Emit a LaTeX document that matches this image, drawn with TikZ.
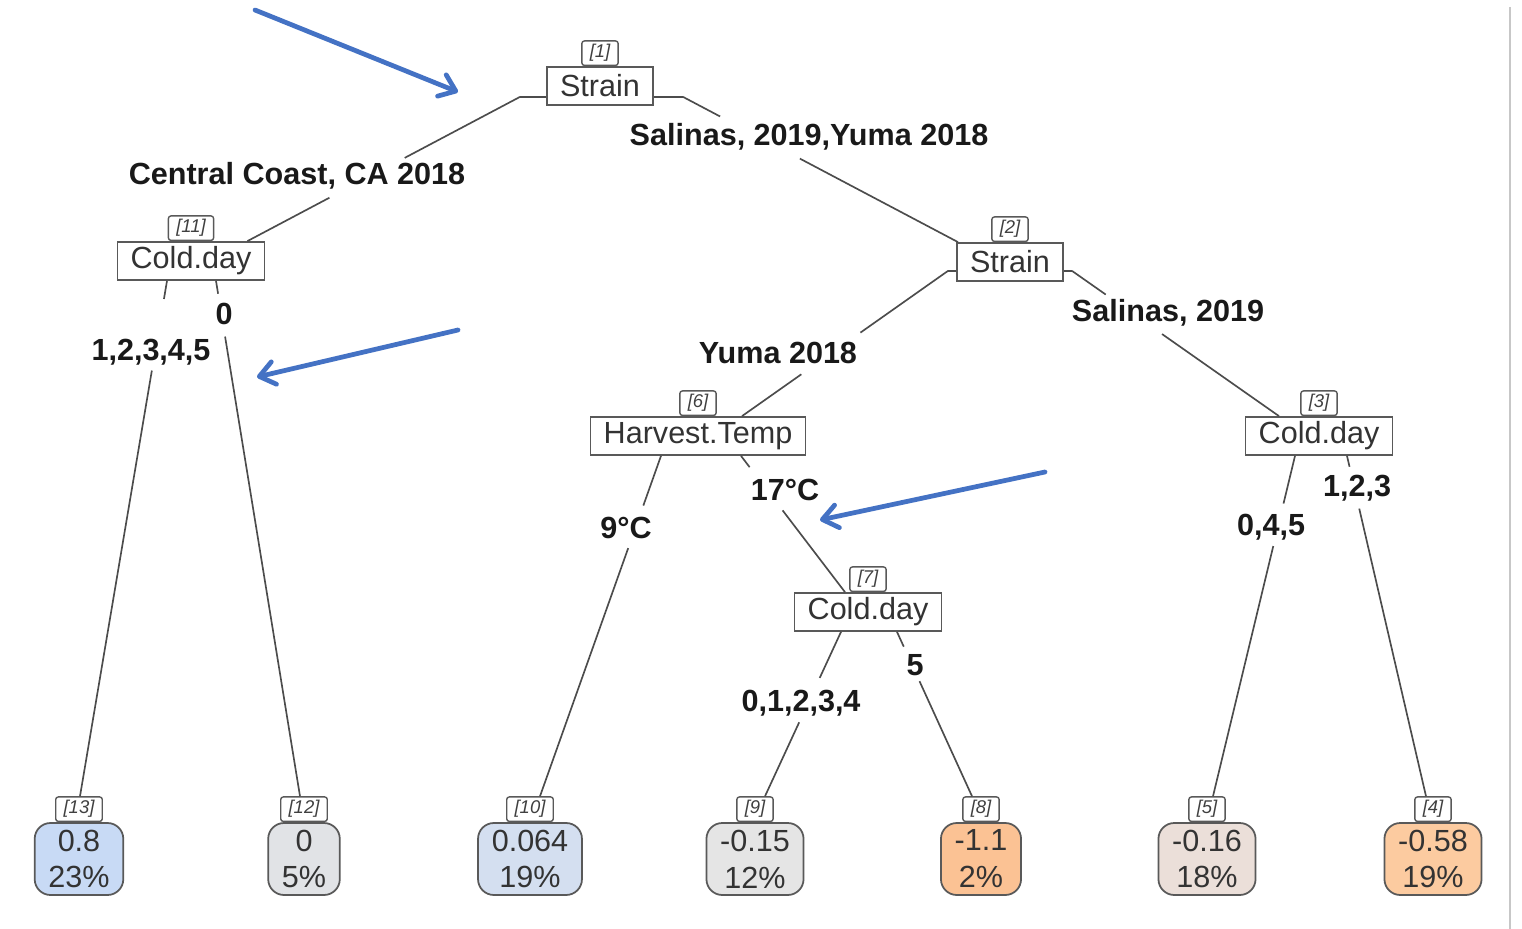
\documentclass[tikz,border=0pt]{standalone}
\usepackage{fontspec}
\setmainfont{Liberation Sans}
\usetikzlibrary{calc,arrows.meta}
\definecolor{leafblue}{RGB}{200,218,245}
\definecolor{leafbluegray}{RGB}{212,223,240}
\definecolor{leafgray}{RGB}{225,227,230}
\definecolor{leafgraylight}{RGB}{229,229,229}
\definecolor{leafbeige}{RGB}{235,223,217}
\definecolor{leaforange}{RGB}{251,194,148}
\definecolor{leafpeach}{RGB}{252,203,160}
\definecolor{arrowblue}{RGB}{68,114,196}
% branch from (parent anchor + offset) to (child anchor + offset), gap between two fractions
\newcommand\branch[6]{%
	\coordinate (bA) at ($(#1)+(#2)$);
	\coordinate (bB) at ($(#3)+(#4)$);
	\draw[branch] (bA) -- ($(bA)!#5!(bB)$) ($(bA)!#6!(bB)$) -- (bB);}

\begin{document}
\begin{tikzpicture}[x=0.02cm,y=-0.02cm,
	split/.style={draw=black!65, line width=1pt, fill=white, text=black!80, font=\fontsize{17.4}{21}\selectfont, inner xsep=7.5pt, inner ysep=0pt, minimum height=0.76cm},
	leaf/.style={split, rounded corners=9pt, align=center, minimum height=1.44cm, inner xsep=7.8pt},
	tag/.style={draw=black!65, line width=0.8pt, rounded corners=1.5pt, fill=white, text=black!75, font=\fontsize{10.5}{12}\selectfont\itshape, inner xsep=4.5pt, inner ysep=0pt, minimum height=0.49cm, anchor=south},
	lbl/.style={font=\fontsize{17.4}{21}\selectfont\bfseries, text=black!90, inner sep=0pt},
	branch/.style={draw=black!70, line width=0.95pt},
	pointer/.style={draw=arrowblue, line width=2.7pt, line cap=round, -{Straight Barb[length=0.3cm,width=0.46cm,round]}}]
		%%%%% START %%%%%
		\useasboundingbox (0,0) rectangle (1522,929);
		\draw[line width=1.2pt, black!22] (1510,7) -- (1510,929);
		
		% split nodes
		\node[split] (n1) at (600,86) {Strain};
		\node[tag] (t1) at (n1.north) {[1]};
		\node[split] (n11) at (191,261) {Cold.day};
		\node[tag] (t11) at (n11.north) {[11]};
		\node[split] (n2) at (1010,262) {Strain};
		\node[tag] (t2) at (n2.north) {[2]};
		\node[split] (n6) at (698,436) {Harvest.Temp};
		\node[tag] (t6) at (n6.north) {[6]};
		\node[split] (n3) at (1319,436) {Cold.day};
		\node[tag] (t3) at (n3.north) {[3]};
		\node[split] (n7) at (868,612) {Cold.day};
		\node[tag] (t7) at (n7.north) {[7]};
		
		% leaves
		\node[leaf, fill=leafblue] (l13) at (79,859) {0.8\\23\%};
		\node[tag] (t13) at (l13.north) {[13]};
		\node[leaf, fill=leafgray] (l12) at (304,859) {0\\5\%};
		\node[tag] (t12) at (l12.north) {[12]};
		\node[leaf, fill=leafbluegray] (l10) at (530,859) {0.064\\19\%};
		\node[tag] (t10) at (l10.north) {[10]};
		\node[leaf, fill=leafgraylight] (l9) at (755,859) {-0.15\\12\%};
		\node[tag] (t9) at (l9.north) {[9]};
		\node[leaf, fill=leaforange] (l8) at (981,859) {-1.1\\2\%};
		\node[tag] (t8) at (l8.north) {[8]};
		\node[leaf, fill=leafbeige] (l5) at (1207,859) {-0.16\\18\%};
		\node[tag] (t5) at (l5.north) {[5]};
		\node[leaf, fill=leafpeach] (l4) at (1433,859) {-0.58\\19\%};
		\node[tag] (t4) at (l4.north) {[4]};
		
		% split labels
		\node[lbl] (s1l) at (297,176) {Central Coast, CA 2018};
		\node[lbl] (s1r) at (809,137) {Salinas, 2019,Yuma 2018};
		\node[lbl] (s11l) at (151,352) {1,2,3,4,5};
		\node[lbl] (s11r) at (224,314) {0};
		\node[lbl] (s2l) at (778,353) {Yuma 2018};
		\node[lbl] (s2r) at (1168,313) {Salinas, 2019};
		\node[lbl] (s6l) at (626,528) {9°C};
		\node[lbl] (s6r) at (785,490) {17°C};
		\node[lbl] (s3l) at (1271,527) {0,4,5};
		\node[lbl] (s3r) at (1357,488) {1,2,3};
		\node[lbl] (s7l) at (801,703) {0,1,2,3,4};
		\node[lbl] (s7r) at (915,665) {5};
		
		% branches
		\draw[branch] ($(n1.south west)+(0,-9)$) -- ++(-26,0);
		\branch{n1.south west}{-26,-9}{n11.north east}{-18,0}{0.423}{0.699}
		\draw[branch] ($(n1.south east)+(0,-9)$) -- ++(29,0);
		\branch{n1.south east}{29,-9}{n2.north west}{2,0}{0.135}{0.425}
		\branch{n11.south}{-24,0}{t13.north}{1,0}{0.035}{0.174}
		\branch{n11.south}{25,0}{t12.north}{-4,0}{0.025}{0.108}
		\draw[branch] ($(n2.south west)+(0,-11)$) -- ++(-8,0);
		\branch{n2.south west}{-8,-11}{n6.north}{44,0}{0.425}{0.712}
		\draw[branch] ($(n2.south east)+(0,-11)$) -- ++(8,0);
		\branch{n2.south east}{8,-11}{n3.north}{-40,0}{0.163}{0.435}
		\branch{n6.south}{-37,0}{t10.north}{10,0}{0.146}{0.271}
		\branch{n6.south}{43,0}{n7.north}{-23,0}{0.083}{0.40}
		\branch{n3.south}{-24,0}{t5.north}{6,0}{0.14}{0.265}
		\branch{n3.south}{28,0}{t4.north}{-7,0}{0.032}{0.155}
		\branch{n7.south}{-27,0}{t9.north}{10,0}{0.28}{0.55}
		\branch{n7.south}{29,0}{t8.north}{-9,0}{0.09}{0.30}
		
		% blue pointers
		\coordinate (p1a) at (255,10);
		\coordinate (p1b) at (458,92);
		\coordinate (p2a) at (458,330);
		\coordinate (p2b) at (257,377);
		\coordinate (p3a) at (1045,472);
		\coordinate (p3b) at (820,520);
		\draw[pointer] (p1a) -- (p1b);
		\draw[pointer] (p2a) -- (p2b);
		\draw[pointer] (p3a) -- (p3b);
		%%%%% END %%%%%
\end{tikzpicture}
\end{document}
